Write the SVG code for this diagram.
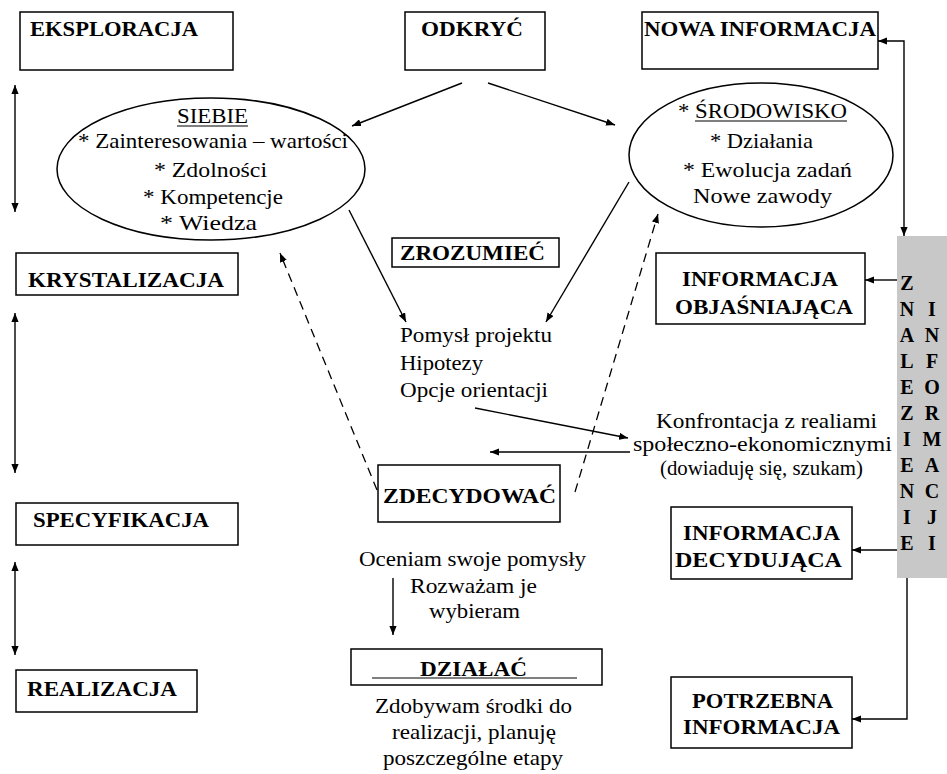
<svg xmlns="http://www.w3.org/2000/svg" width="947" height="774" viewBox="0 0 947 774">
<style>
.bx{fill:#fff;stroke:#000;stroke-width:1.5}
.el{fill:#fff;stroke:#000;stroke-width:1.5}
text{font-family:'Liberation Serif','DejaVu Serif','Times New Roman',serif;fill:#000}
.b{font-weight:bold;font-size:21px}
.r{font-size:22px}
.g{font-weight:bold;font-size:20px;text-anchor:middle}
.c{fill:none;stroke:#000;stroke-width:1.4}
.d{fill:none;stroke:#000;stroke-width:1.3;stroke-dasharray:9 6}
.u{stroke:#000;stroke-width:1.2}
</style>
<defs>
<marker id="ah" viewBox="0 0 10 8" refX="10" refY="4" markerWidth="9" markerHeight="7.2" markerUnits="userSpaceOnUse" orient="auto-start-reverse">
<path d="M0,0 L10,4 L0,8 z" fill="#000"/>
</marker>
</defs>
<rect x="0" y="0" width="947" height="774" fill="#fff"/>

<g id="eksploracja"><rect class="bx" x="20" y="12" width="213" height="58"/><text class="b" font-family="Liberation Serif, serif" x="30" y="36" textLength="168" lengthAdjust="spacingAndGlyphs">EKSPLORACJA</text></g>
<g id="odkryc"><rect class="bx" x="405" y="12" width="140" height="58"/><text class="b" font-family="Liberation Serif, serif" x="421" y="36" textLength="102" lengthAdjust="spacingAndGlyphs">ODKRYĆ</text></g>
<g id="nowa-informacja"><rect class="bx" x="642" y="12" width="236" height="57"/><text class="b" font-family="Liberation Serif, serif" x="644" y="36" textLength="232" lengthAdjust="spacingAndGlyphs">NOWA INFORMACJA</text></g>
<g id="krystalizacja"><rect class="bx" x="16" y="253" width="222" height="42"/><text class="b" font-family="Liberation Serif, serif" x="28" y="287" textLength="196" lengthAdjust="spacingAndGlyphs">KRYSTALIZACJA</text></g>
<g id="specyfikacja"><rect class="bx" x="16" y="503" width="222" height="42"/><text class="b" font-family="Liberation Serif, serif" x="33" y="527" textLength="176" lengthAdjust="spacingAndGlyphs">SPECYFIKACJA</text></g>
<g id="realizacja"><rect class="bx" x="16" y="670" width="181" height="42"/><text class="b" font-family="Liberation Serif, serif" x="27" y="696" textLength="150" lengthAdjust="spacingAndGlyphs">REALIZACJA</text></g>

<g id="siebie">
<ellipse class="el" cx="211" cy="169" rx="154" ry="71"/>
<text class="r" x="177" y="123" textLength="71" lengthAdjust="spacingAndGlyphs">SIEBIE</text>
<line class="u" x1="177" y1="126" x2="248" y2="126"/>
<text class="r" x="78" y="148" textLength="270" lengthAdjust="spacingAndGlyphs">* Zainteresowania – wartości</text>
<text class="r" x="154" y="177" textLength="113" lengthAdjust="spacingAndGlyphs">* Zdolności</text>
<text class="r" x="143" y="204" textLength="140" lengthAdjust="spacingAndGlyphs">* Kompetencje</text>
<text class="r" x="160" y="230" textLength="97" lengthAdjust="spacingAndGlyphs">* Wiedza</text>
</g>

<g id="srodowisko">
<ellipse class="el" cx="761" cy="155" rx="132" ry="72"/>
<text class="r" x="678" y="118" textLength="169" lengthAdjust="spacingAndGlyphs">* ŚRODOWISKO</text>
<line class="u" x1="695" y1="121" x2="847" y2="121"/>
<text class="r" x="710" y="148" textLength="103" lengthAdjust="spacingAndGlyphs">* Działania</text>
<text class="r" x="683" y="177" textLength="169" lengthAdjust="spacingAndGlyphs">* Ewolucja zadań</text>
<text class="r" x="693" y="203" textLength="139" lengthAdjust="spacingAndGlyphs">Nowe zawody</text>
</g>

<g id="zrozumiec"><rect class="bx" x="392" y="238" width="167" height="29"/><text class="b" x="400" y="260" textLength="145" lengthAdjust="spacingAndGlyphs">ZROZUMIEĆ</text></g>

<g id="pomysl">
<text class="r" x="400" y="342" textLength="152" lengthAdjust="spacingAndGlyphs">Pomysł projektu</text>
<text class="r" x="400" y="370" textLength="83" lengthAdjust="spacingAndGlyphs">Hipotezy</text>
<text class="r" x="400" y="397" textLength="148" lengthAdjust="spacingAndGlyphs">Opcje orientacji</text>
</g>

<g id="konfrontacja">
<text class="r" x="656" y="428" textLength="221" lengthAdjust="spacingAndGlyphs">Konfrontacja z realiami</text>
<text class="r" x="633" y="451" textLength="259" lengthAdjust="spacingAndGlyphs">społeczno-ekonomicznymi</text>
<text class="r" x="660" y="475" font-size="19" textLength="203" lengthAdjust="spacingAndGlyphs">(dowiaduję się, szukam)</text>
</g>

<g id="zdecydowac"><rect class="bx" x="378" y="465" width="182" height="57"/><text class="b" x="383" y="503" textLength="173" lengthAdjust="spacingAndGlyphs">ZDECYDOWAĆ</text></g>

<g id="oceniam">
<text class="r" x="359" y="566" textLength="227" lengthAdjust="spacingAndGlyphs">Oceniam swoje pomysły</text>
<text class="r" x="410" y="593" textLength="127" lengthAdjust="spacingAndGlyphs">Rozważam je</text>
<text class="r" x="429" y="618" textLength="91" lengthAdjust="spacingAndGlyphs">wybieram</text>
</g>

<g id="dzialac"><rect class="bx" x="351" y="649" width="251" height="36"/><text class="b" x="420" y="676" textLength="107" lengthAdjust="spacingAndGlyphs">DZIAŁAĆ</text><line class="u" x1="372" y1="678" x2="577" y2="678"/></g>

<g id="zdobywam">
<text class="r" x="375" y="713" textLength="197" lengthAdjust="spacingAndGlyphs">Zdobywam środki do</text>
<text class="r" x="392" y="739" textLength="164" lengthAdjust="spacingAndGlyphs">realizacji, planuję</text>
<text class="r" x="383" y="765" textLength="180" lengthAdjust="spacingAndGlyphs">poszczególne etapy</text>
</g>

<g id="info-objasniajaca"><rect class="bx" x="656" y="253" width="209" height="71"/>
<text class="b" x="682" y="286" textLength="156" lengthAdjust="spacingAndGlyphs">INFORMACJA</text>
<text class="b" x="675" y="314" textLength="178" lengthAdjust="spacingAndGlyphs">OBJAŚNIAJĄCA</text></g>
<g id="info-decydujaca"><rect class="bx" x="671" y="507" width="181" height="72"/>
<text class="b" x="683" y="540" textLength="157" lengthAdjust="spacingAndGlyphs">INFORMACJA</text>
<text class="b" x="675" y="567" textLength="167" lengthAdjust="spacingAndGlyphs">DECYDUJĄCA</text></g>
<g id="potrzebna-informacja"><rect class="bx" x="671" y="677" width="181" height="71"/>
<text class="b" x="692" y="708" textLength="141" lengthAdjust="spacingAndGlyphs">POTRZEBNA</text>
<text class="b" x="683" y="734" textLength="157" lengthAdjust="spacingAndGlyphs">INFORMACJA</text></g>

<g id="znalezienie-informacji">
<rect x="897" y="236" width="50" height="342" fill="#c8c8c8"/>
<text class="g" x="907" y="290">Z</text>
<text class="g" x="907" y="316">N</text><text class="g" x="932" y="316">I</text>
<text class="g" x="907" y="342">A</text><text class="g" x="932" y="342">N</text>
<text class="g" x="907" y="368">L</text><text class="g" x="932" y="368">F</text>
<text class="g" x="907" y="394">E</text><text class="g" x="932" y="394">O</text>
<text class="g" x="907" y="420">Z</text><text class="g" x="932" y="420">R</text>
<text class="g" x="907" y="446">I</text><text class="g" x="932" y="446">M</text>
<text class="g" x="907" y="472">E</text><text class="g" x="932" y="472">A</text>
<text class="g" x="907" y="498">N</text><text class="g" x="932" y="498">C</text>
<text class="g" x="907" y="524">I</text><text class="g" x="932" y="524">J</text>
<text class="g" x="907" y="550">E</text><text class="g" x="932" y="550">I</text>
</g>

<g id="connectors">
<path class="c" d="M462,83 L352,126" marker-end="url(#ah)"/>
<path class="c" d="M488,83 L615,125" marker-end="url(#ah)"/>
<path class="c" d="M349,210 L406,322" marker-end="url(#ah)"/>
<path class="c" d="M629,182 L546,322" marker-end="url(#ah)"/>
<path class="d" d="M377,490 L280,253" marker-end="url(#ah)"/>
<path class="d" d="M575,492 L658,214" marker-end="url(#ah)"/>
<path class="c" d="M475,408 L628,438" marker-end="url(#ah)"/>
<path class="c" d="M630,452 L490,452" marker-end="url(#ah)"/>
<path class="c" d="M393,578 L393,635" marker-end="url(#ah)"/>
<path class="c" d="M878,41 H904 V236" marker-start="url(#ah)" marker-end="url(#ah)"/>
<path class="c" d="M897,280 L865,280" marker-end="url(#ah)"/>
<path class="c" d="M897,550 L852,550" marker-end="url(#ah)"/>
<path class="c" d="M907,578 V719 H852" marker-end="url(#ah)"/>
<path class="c" d="M15,85 V212" marker-start="url(#ah)" marker-end="url(#ah)"/>
<path class="c" d="M15,313 V473" marker-start="url(#ah)" marker-end="url(#ah)"/>
<path class="c" d="M15,562 V655" marker-start="url(#ah)" marker-end="url(#ah)"/>
</g>
</svg>
